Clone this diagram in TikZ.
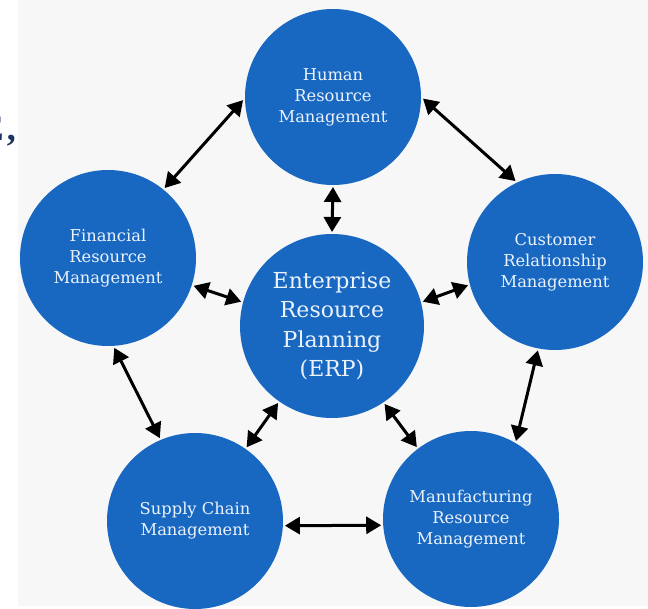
\documentclass[tikz,border=0pt]{standalone}
\usepackage{fontspec}
\setmainfont{DejaVu Serif}
\newfontfamily\edgefont{Liberation Serif}
\usetikzlibrary{arrows.meta}
\definecolor{discblue}{RGB}{24,104,194}
\definecolor{disctext}{RGB}{236,243,251}
\definecolor{panelgray}{RGB}{247,247,247}
\definecolor{navy}{RGB}{28,52,100}
\tikzset{
  bubble/.style={circle, fill=discblue, text=disctext, inner sep=0pt,
    outer sep=2pt, minimum size=176pt, align=center,
    font=\fontsize{16.3}{21}\selectfont},
  hub/.style={bubble, minimum size=184pt, font=\fontsize{22}{29.5}\selectfont},
  link/.style={line width=3pt, black,
    {Triangle[length=15pt,width=17pt]}-{Triangle[length=15pt,width=17pt]}}
}
\begin{document}
\begin{tikzpicture}[x=1pt,y=-1pt]
  \useasboundingbox (0,0) rectangle (648,609);
  % page backdrop
  \fill[white] (0,0) rectangle (648,609);
  \fill[panelgray] (18,0) rectangle (648,606);
  % clipped heading fragment at the left edge
  \node[anchor=base east, inner sep=0pt, text=navy,
        font=\edgefont\bfseries\fontsize{36}{36}\selectfont] (frag) at (16,141) {E\hspace{3pt},};

  % discs
  \node[hub]    (erp)  at (332,326) {Enterprise\\Resource\\Planning\\(ERP)};
  \node[bubble] (hr)   at (333,97)  {Human\\Resource\\Management};
  \node[bubble] (fin)  at (108,258) {Financial\\Resource\\Management};
  \node[bubble] (cust) at (555,262) {Customer\\Relationship\\Management};
  \node[bubble] (sup)  at (195,521) {Supply Chain\\Management};
  \node[bubble] (manu) at (471,519) {Manufacturing\\Resource\\Management};

  % outer ring
  \draw[link] (hr.182.5) -- (fin.51.4);
  \draw[link] (hr.-1.2)  -- (cust.116.6);
  \draw[link] (fin.-86)  -- (sup.113.6);
  \draw[link] (cust.259) -- (manu.60.4);
  \draw[link] (sup.-3.4) -- (manu.184.8);

  % spokes to the hub
  \draw[link] (hr.270)    -- (erp.90);
  \draw[link] (fin.-18.8) -- (erp.165.2);
  \draw[link] (cust.195.3) -- (erp.15.6);
  \draw[link] (sup.55.1)  -- (erp.235.8);
  \draw[link] (manu.127.1) -- (erp.-56.8);
\end{tikzpicture}
\end{document}
